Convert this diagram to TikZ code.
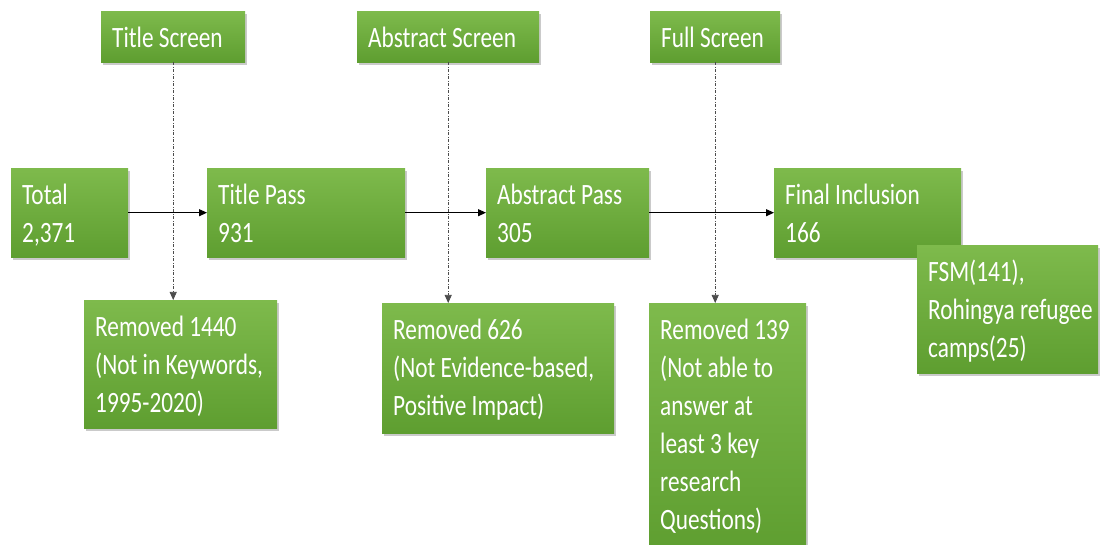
\documentclass[tikz,border=0pt]{standalone}
\usepackage{fontspec}
\setmainfont{Carlito}[FakeStretch=0.79]
\usetikzlibrary{arrows.meta,shadows}
\definecolor{gtop}{RGB}{126,186,76}
\definecolor{gbot}{RGB}{94,158,48}
\tikzset{
  gbox/.style={draw=none, top color=gtop, bottom color=gbot,
    drop shadow={shadow xshift=2pt, shadow yshift=-3pt, opacity=0.35, fill=black!60},
    inner sep=0pt, anchor=north west},
  gtxt/.style={anchor=north west, inner sep=0pt, align=left, text=white,
    font=\fontsize{29.5}{38}\selectfont},
  flow/.style={-{Triangle[length=8pt,width=7pt]}, line width=1.1pt, black},
  rej/.style={-{Triangle[length=8pt,width=7pt]}, line width=0.7pt, black!70,
    dash pattern=on 3pt off 1.5pt on 1pt off 1.5pt},
}
\newcommand\gbx[6]{%
  \node[gbox, minimum width=#4pt, minimum height=#5pt] (#1) at (#2,#3) {};
  \node[gtxt] (#1-t) at ([xshift=11pt,yshift=-10pt]#1.north west) {\rule{0pt}{26pt}#6};
}
\begin{document}
\begin{tikzpicture}[x=1pt,y=-1pt]
\useasboundingbox (0,0) rectangle (1104,545);
\gbx{ts}{101}{11}{144}{51}{Title Screen}
\gbx{as}{357}{11}{182}{51}{Abstract Screen}
\gbx{fs}{650}{11}{130}{51}{Full Screen}
\gbx{tot}{11}{168}{117}{89}{Total\\2,371}
\gbx{tp}{207}{168}{198}{89}{Title Pass\\931}
\gbx{ap}{486}{168}{163}{89}{Abstract Pass\\305}
\gbx{fi}{774}{168}{187}{89}{Final Inclusion\\166}
\gbx{fsm}{917}{245}{181}{128}{FSM(141),\\Rohingya refugee\\camps(25)}
\gbx{r1}{84}{300}{193}{128}{Removed 1440\\(Not in Keywords,\\1995-2020)}
\gbx{r2}{382}{303}{232}{130}{Removed 626\\(Not Evidence-based,\\Positive Impact)}
\gbx{r3}{649}{303}{157}{250}{Removed 139\\(Not able to\\answer at\\least 3 key\\research\\Questions)}
\draw[flow] (tot) -- (tp);
\draw[flow] (tp) -- (ap);
\draw[flow] (ap) -- (fi);
\draw[rej] (ts.south) -- (ts.south |- r1.north);
\draw[rej] (as.south) -- (as.south |- r2.north);
\draw[rej] (fs.south) -- (fs.south |- r3.north);
\end{tikzpicture}
\end{document}
